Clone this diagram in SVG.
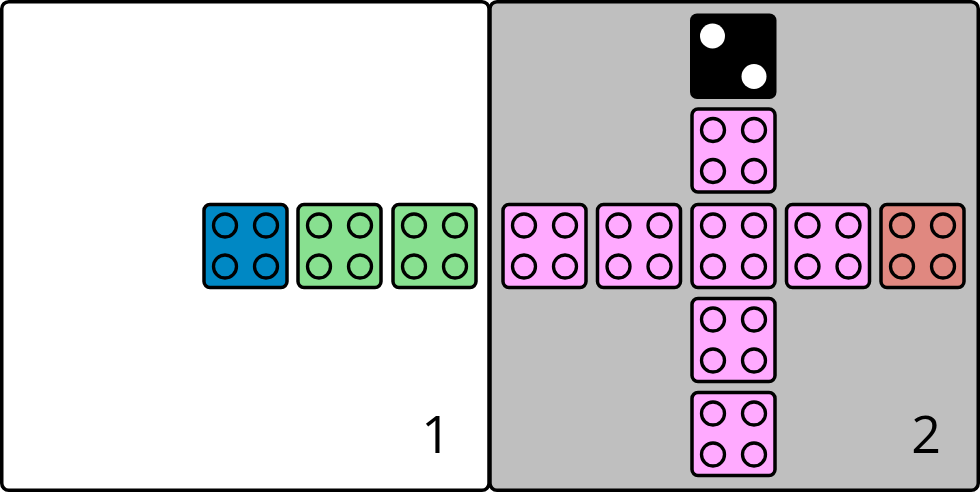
<svg xmlns="http://www.w3.org/2000/svg" width="980" height="492" viewBox="0 0 980 492">
<style>
.panel{stroke:#000;stroke-width:3.5}
.tile{stroke:#000;stroke-width:3.5}
.hole{fill:none;stroke:#000;stroke-width:3.3}
.num{font-family:"Open Sans","DejaVu Sans",sans-serif;font-size:52px;fill:#000;text-anchor:middle}
.blue{fill:#0088c4}
.green{fill:#88e090}
.pink{fill:#ffaaff}
.red{fill:#e08880}
</style>
<defs>
<g id="holes">
<circle class="hole" cx="-20.5" cy="-20.5" r="11.5"/>
<circle class="hole" cx="20.5" cy="-20.5" r="11.5"/>
<circle class="hole" cx="-20.5" cy="20.5" r="11.5"/>
<circle class="hole" cx="20.5" cy="20.5" r="11.5"/>
</g>
</defs>
<g id="panel1">
<rect class="panel" x="1.75" y="1.75" width="487.25" height="488.5" rx="7" fill="#fff"/>
<text class="num" x="436" y="453">1</text>
</g>
<g id="panel2">
<rect class="panel" x="490" y="1.75" width="488.25" height="488.5" rx="7" fill="#bfbfbf"/>
<text class="num" x="926" y="453">2</text>
</g>
<g id="die">
<rect x="690" y="13.5" width="86.5" height="85.5" rx="7" fill="#000"/>
<circle cx="712.5" cy="36" r="12.5" fill="#fff"/>
<circle cx="754" cy="76.5" r="12.5" fill="#fff"/>
</g>
<g id="tile-blue" transform="translate(245.5,246)">
<rect class="tile blue" x="-41.5" y="-41.5" width="83" height="83" rx="6"/>
<use href="#holes"/>
</g>
<g id="tile-green1" transform="translate(339.5,246)">
<rect class="tile green" x="-41.5" y="-41.5" width="83" height="83" rx="6"/>
<use href="#holes"/>
</g>
<g id="tile-green2" transform="translate(434.5,246)">
<rect class="tile green" x="-41.5" y="-41.5" width="83" height="83" rx="6"/>
<use href="#holes"/>
</g>
<g id="tile-pink1" transform="translate(544.5,246)">
<rect class="tile pink" x="-41.5" y="-41.5" width="83" height="83" rx="6"/>
<use href="#holes"/>
</g>
<g id="tile-pink2" transform="translate(639,246)">
<rect class="tile pink" x="-41.5" y="-41.5" width="83" height="83" rx="6"/>
<use href="#holes"/>
</g>
<g id="tile-pink-center" transform="translate(733.5,246)">
<rect class="tile pink" x="-41.5" y="-41.5" width="83" height="83" rx="6"/>
<use href="#holes"/>
</g>
<g id="tile-pink4" transform="translate(828,246)">
<rect class="tile pink" x="-41.5" y="-41.5" width="83" height="83" rx="6"/>
<use href="#holes"/>
</g>
<g id="tile-red" transform="translate(922.5,246)">
<rect class="tile red" x="-41.5" y="-41.5" width="83" height="83" rx="6"/>
<use href="#holes"/>
</g>
<g id="tile-pink-top" transform="translate(733.5,150.5)">
<rect class="tile pink" x="-41.5" y="-41.5" width="83" height="83" rx="6"/>
<use href="#holes"/>
</g>
<g id="tile-pink-bottom1" transform="translate(733.5,340)">
<rect class="tile pink" x="-41.5" y="-41.5" width="83" height="83" rx="6"/>
<use href="#holes"/>
</g>
<g id="tile-pink-bottom2" transform="translate(733.5,434)">
<rect class="tile pink" x="-41.5" y="-41.5" width="83" height="83" rx="6"/>
<use href="#holes"/>
</g>
<g id="connectors"/>
</svg>
